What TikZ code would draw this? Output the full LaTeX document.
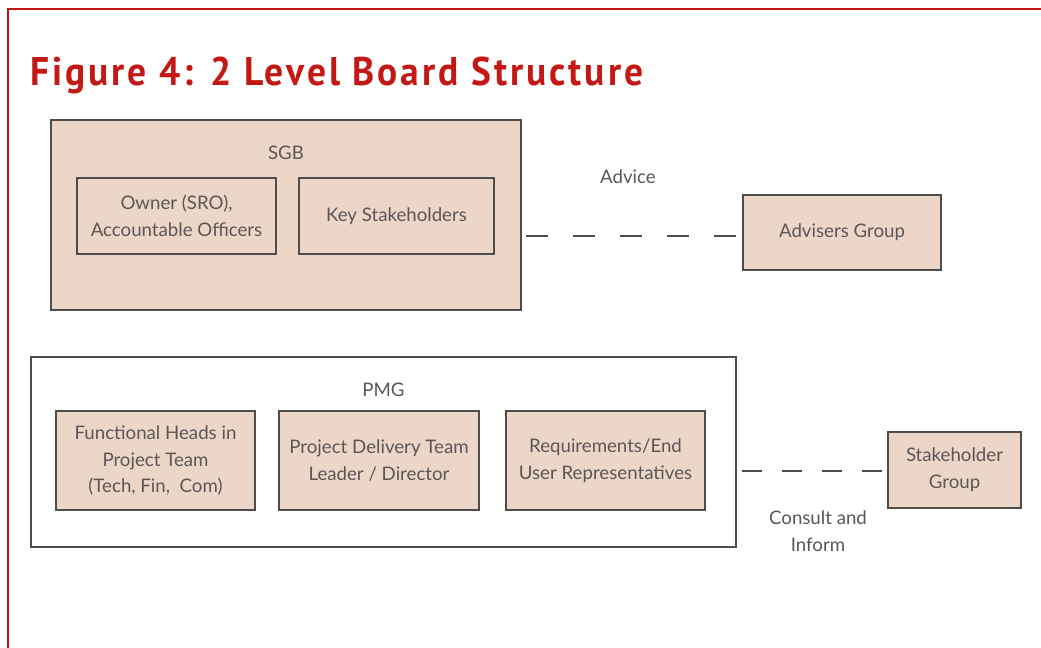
\documentclass[tikz,border=0pt]{standalone}
\usepackage{fontspec}
\setmainfont{Lato}
\newfontfamily\titlefont[LetterSpace=8]{PT Sans}
\definecolor{boxfill}{RGB}{236,214,200}
\definecolor{boxline}{RGB}{80,76,76}
\definecolor{txt}{RGB}{92,86,86}
\definecolor{figred}{RGB}{196,24,20}
\begin{document}
\begin{tikzpicture}[x=0.75pt,y=-0.75pt,
  box/.style={draw=boxline,line width=1.1pt,fill=boxfill,inner sep=0pt,align=center,text=txt,font=\fontsize{14}{20}\selectfont},
  outer/.style={draw=boxline,line width=1.1pt,inner sep=0pt},
  lbl/.style={text=txt,align=center,inner sep=0pt,font=\fontsize{14}{20}\selectfont},
  link/.style={draw=boxline,line width=1.3pt}]
\useasboundingbox (0,0) rectangle (1041,647);
\fill[white] (0,0) rectangle (1041,647);
% red frame
\draw[figred,line width=1.6pt] (8,660) -- (8,9) -- (1060,9);
\node[anchor=base west,inner sep=0pt,text=figred,font=\titlefont\bfseries\fontsize{30}{32}\selectfont] (title) at (30,85) {\resizebox{459.75pt}{\height}{Figure 4: 2 Level Board Structure}};
% SGB
\node[box,minimum width=352.5pt,minimum height=142.5pt] (sgb) at (286,215) {};
\node[lbl] (sgbl) at (286,153) {SGB};
\node[box,minimum width=149.25pt,minimum height=57pt] (owner) at (176.5,216) {Owner (SRO),\\Accountable Officers};
\node[box,minimum width=146.25pt,minimum height=57pt] (key) at (396.5,216) {Key Stakeholders};
\node[box,minimum width=148.5pt,minimum height=56.25pt] (adv) at (842,232.5) {Advisers Group};
\node[lbl] (advice) at (628,177) {Advice};
\coordinate (a1) at (521,236);
\coordinate (a2) at (743,236);
\draw[link,dash pattern=on 16.5pt off 18.75pt,dash phase=31.5pt] (a1) -- (a2);
% PMG
\node[outer,minimum width=528.75pt,minimum height=142.5pt] (pmg) at (383.5,452) {};
\node[lbl] (pmgl) at (383.5,390) {PMG};
\node[box,minimum width=149.25pt,minimum height=74.25pt] (func) at (155.5,460.5) {Functional Heads in\\Project Team\\(Tech, Fin,\ \ Com)};
\node[box,minimum width=150pt,minimum height=74.25pt] (proj) at (379,460.5) {Project Delivery Team\\Leader / Director};
\node[box,minimum width=149.25pt,minimum height=74.25pt] (req) at (605.5,460.5) {Requirements/End\\User Representatives};
\node[box,minimum width=99.75pt,minimum height=57pt] (stk) at (954.5,470) {Stakeholder\\Group};
\node[lbl] (consult) at (818,531) {Consult and\\Inform};
\coordinate (b1) at (736,471);
\coordinate (b2) at (888,471);
\draw[link,dash pattern=on 15pt off 15pt,dash phase=25.5pt] (b1) -- (b2);
\end{tikzpicture}
\end{document}
